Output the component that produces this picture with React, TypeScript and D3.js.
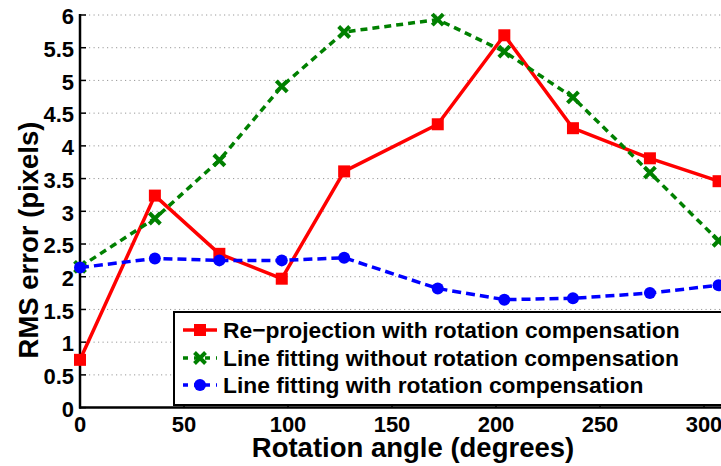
import React from "react";
import * as d3 from "d3";

const angles = [0, 36, 67, 97, 127, 172, 204, 237, 274, 307];
const reprojection = [0.73, 3.24, 2.35, 1.97, 3.61, 4.33, 5.69, 4.27, 3.81, 3.46];
const fittingNoComp = [2.15, 2.89, 3.78, 4.91, 5.74, 5.93, 5.44, 4.74, 3.59, 2.55];
const fittingComp = [2.14, 2.28, 2.25, 2.25, 2.29, 1.82, 1.65, 1.67, 1.75, 1.87];
const xTicks = [0, 50, 100, 150, 200, 250, 300];
const yTicks = [0, 0.5, 1, 1.5, 2, 2.5, 3, 3.5, 4, 4.5, 5, 5.5, 6];
const legendLabels = [
  "Re\u2212projection with rotation compensation",
  "Line fitting without rotation compensation",
  "Line fitting with rotation compensation",
];

const W = 721;
const H = 466;
const FONT = "'Liberation Sans', Arial, sans-serif";

export default function App() {
  const x = d3.scaleLinear().domain([0, 320]).range([80, 745.6]);
  const y = d3.scaleLinear().domain([0, 6]).range([407.6, 15]);
  const line = d3
    .line<number>()
    .x((_, i) => x(angles[i]))
    .y((d) => y(d));

  const red = "#ff0000";
  const green = "#008000";
  const blue = "#0000ff";

  const sq = (cx: number, cy: number, k: string) => (
    <rect key={k} x={cx - 6} y={cy - 6} width={12} height={12} fill={red} />
  );
  const cross = (cx: number, cy: number, k: string) => (
    <path
      key={k}
      d={`M${cx - 5.5},${cy - 5.5}L${cx + 5.5},${cy + 5.5}M${cx - 5.5},${cy + 5.5}L${cx + 5.5},${cy - 5.5}`}
      stroke={green}
      strokeWidth={4}
      fill="none"
    />
  );
  const dot = (cx: number, cy: number, k: string) => (
    <circle key={k} cx={cx} cy={cy} r={6} fill={blue} />
  );

  const legendY = [330, 358, 385];

  return (
    <svg
      width={W}
      height={H}
      style={{ position: "absolute", left: 0, top: 0, background: "#fff" }}
      fontFamily={FONT}
      fontWeight="bold"
    >
      <rect x={0} y={0} width={W} height={H} fill="#fff" />
      {/* grid */}
      {yTicks.map((t) => (
        <line
          key={"g" + t}
          x1={x(0)}
          x2={W}
          y1={y(t)}
          y2={y(t)}
          stroke="#999"
          strokeWidth={1}
          strokeDasharray="1.2,3.3"
        />
      ))}
      {/* axes */}
      <line x1={x(0)} x2={x(0)} y1={y(6) - 1} y2={y(0) + 1} stroke="#000" strokeWidth={2.5} />
      <line x1={x(0) - 1} x2={W} y1={y(0)} y2={y(0)} stroke="#000" strokeWidth={2.5} />
      {yTicks.map((t) => (
        <g key={"yt" + t}>
          <line x1={x(0)} x2={x(0) + 6} y1={y(t)} y2={y(t)} stroke="#000" strokeWidth={1.5} />
          <text x={x(0) - 6} y={y(t)} dy="0.42em" textAnchor="end" fontSize={22}>
            {t}
          </text>
        </g>
      ))}
      {xTicks.map((t) => (
        <g key={"xt" + t}>
          <line x1={x(t)} x2={x(t)} y1={y(0)} y2={y(0) - 6} stroke="#000" strokeWidth={1.5} />
          <text x={x(t)} y={y(0) + 24} textAnchor="middle" fontSize={22}>
            {t}
          </text>
        </g>
      ))}
      <text x={413} y={457} textAnchor="middle" fontSize={27.5}>
        Rotation angle (degrees)
      </text>
      <text transform={`translate(38,240) rotate(-90)`} textAnchor="middle" fontSize={27.5}>
        RMS error (pixels)
      </text>

      {/* series */}
      <path d={line(reprojection) || ""} fill="none" stroke={red} strokeWidth={3.5} strokeLinejoin="round" />
      <path d={line(fittingNoComp) || ""} fill="none" stroke={green} strokeWidth={3.5} strokeDasharray="7,5" />
      <path d={line(fittingComp) || ""} fill="none" stroke={blue} strokeWidth={3.5} strokeDasharray="9,5" />
      {reprojection.map((v, i) => sq(x(angles[i]), y(v), "r" + i))}
      {fittingNoComp.map((v, i) => cross(x(angles[i]), y(v), "c" + i))}
      {fittingComp.map((v, i) => dot(x(angles[i]), y(v), "d" + i))}

      {/* legend */}
      <rect x={174} y={312} width={600} height={93} fill="#fff" stroke="#000" strokeWidth={2} />
      <line x1={183} x2={217} y1={legendY[0]} y2={legendY[0]} stroke={red} strokeWidth={3.5} />
      {sq(200, legendY[0], "lr")}
      <line x1={183} x2={217} y1={legendY[1]} y2={legendY[1]} stroke={green} strokeWidth={3.5} strokeDasharray="5,6" />
      {cross(200, legendY[1], "lc")}
      <line x1={183} x2={217} y1={legendY[2]} y2={legendY[2]} stroke={blue} strokeWidth={3.5} strokeDasharray="5,6" />
      {dot(200, legendY[2], "ld")}
      {legendLabels.map((l, i) => (
        <text key={l} x={223} y={legendY[i]} dy="0.36em" fontSize={22.8}>
          {l}
        </text>
      ))}
    </svg>
  );
}
